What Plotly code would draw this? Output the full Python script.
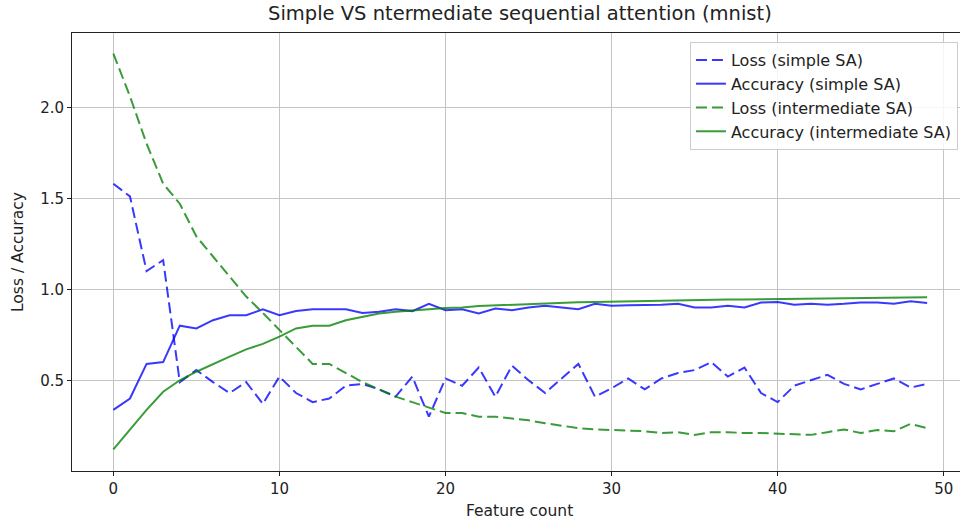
import plotly.graph_objects as go

# Feature counts on the x axis
feature_count = list(range(50))

# Simple sequential attention
loss_simple = [1.58, 1.51, 1.10, 1.16, 0.49, 0.556, 0.49, 0.43, 0.49, 0.37,
               0.52, 0.43, 0.38, 0.40, 0.47, 0.48, 0.45, 0.41, 0.52, 0.30,
               0.51, 0.47, 0.57, 0.41, 0.58, 0.50, 0.43, 0.51, 0.59, 0.41,
               0.456, 0.51, 0.45, 0.51, 0.54, 0.556, 0.60, 0.52, 0.57, 0.43,
               0.38, 0.47, 0.50, 0.53, 0.48, 0.45, 0.48, 0.51, 0.46, 0.48]
acc_simple = [0.337, 0.40, 0.59, 0.60, 0.80, 0.785, 0.83, 0.857, 0.857, 0.89,
              0.857, 0.88, 0.89, 0.89, 0.89, 0.87, 0.876, 0.89, 0.88, 0.92,
              0.885, 0.89, 0.867, 0.894, 0.885, 0.90, 0.91, 0.90, 0.89, 0.92,
              0.91, 0.912, 0.912, 0.915, 0.92, 0.90, 0.90, 0.91, 0.90, 0.927,
              0.93, 0.915, 0.92, 0.915, 0.92, 0.927, 0.927, 0.92, 0.934, 0.925]

# Intermediate sequential attention
loss_inter = [2.295, 2.06, 1.80, 1.58, 1.47, 1.29, 1.18, 1.07, 0.96, 0.87,
              0.775, 0.68, 0.59, 0.59, 0.54, 0.49, 0.45, 0.41, 0.38, 0.35,
              0.32, 0.32, 0.30, 0.30, 0.29, 0.28, 0.264, 0.25, 0.237, 0.23,
              0.227, 0.227, 0.22, 0.21, 0.215, 0.20, 0.215, 0.215, 0.21, 0.21,
              0.207, 0.207, 0.20, 0.215, 0.23, 0.21, 0.227, 0.22, 0.26, 0.237]
acc_inter = [0.12, 0.23, 0.337, 0.437, 0.50, 0.547, 0.59, 0.63, 0.67, 0.70,
             0.74, 0.785, 0.80, 0.80, 0.83, 0.85, 0.867, 0.876, 0.885, 0.89,
             0.897, 0.90, 0.908, 0.912, 0.915, 0.918, 0.92, 0.925, 0.929, 0.93,
             0.932, 0.934, 0.936, 0.938, 0.940, 0.942, 0.942, 0.944, 0.944, 0.945,
             0.947, 0.947, 0.949, 0.949, 0.947, 0.949, 0.951, 0.954, 0.952, 0.956]

BLUE = "rgba(0,0,255,0.78)"
GREEN = "rgba(0,128,0,0.78)"
FONT = "DejaVu Sans"
TEXT = "#222"

fig = go.Figure()
series = [
    ("Loss (simple SA)", loss_simple, BLUE, "11px,5px"),
    ("Accuracy (simple SA)", acc_simple, BLUE, "solid"),
    ("Loss (intermediate SA)", loss_inter, GREEN, "11px,5px"),
    ("Accuracy (intermediate SA)", acc_inter, GREEN, "solid"),
]
for name, vals, color, dash in series:
    fig.add_trace(go.Scatter(
        x=feature_count, y=vals, mode="lines", name=name, legendgroup=name,
        line=dict(color=color, width=2, dash=dash),
    ))

axis_common = dict(
    showgrid=True, gridcolor="#c4c4c4", gridwidth=1,
    showline=True, linecolor=TEXT, linewidth=1,
    ticks="outside", ticklen=4, tickcolor=TEXT, tickwidth=1,
    tickfont=dict(family=FONT, size=15, color=TEXT),
    zeroline=False,
)

fig.update_layout(
    width=960, height=522,
    margin=dict(l=72, r=0, t=33, b=51),
    paper_bgcolor="white", plot_bgcolor="white",
    font=dict(family=FONT, size=15, color=TEXT),
    xaxis=dict(range=[-2.49, 50.98], tickvals=[0, 10, 20, 30, 40, 50],
               mirror=True, **axis_common),
    yaxis=dict(range=[0.0015, 2.408], tickvals=[0.5, 1.0, 1.5, 2.0],
               ticktext=["0.5", "1.0", "1.5", "2.0"], **axis_common),
    legend=dict(
        x=0.9977, y=0.9795, xanchor="right", yanchor="top",
        bgcolor="rgba(255,255,255,0.85)", bordercolor="#cccccc", borderwidth=1,
        font=dict(family=FONT, size=16, color=TEXT),
        tracegroupgap=0, itemwidth=30,
    ),
    showlegend=True,
    annotations=[
        dict(text="Simple VS ntermediate sequential attention (mnist)",
             xref="paper", yref="paper", x=0.5045, y=1.0434,
             xanchor="center", yanchor="middle", showarrow=False,
             font=dict(family=FONT, size=19.5, color=TEXT)),
        dict(text="Feature count", xref="paper", yref="paper",
             x=0.5045, y=-0.0913, xanchor="center", yanchor="middle",
             showarrow=False, font=dict(family=FONT, size=15.5, color=TEXT)),
        dict(text="Loss / Accuracy", xref="paper", yref="paper",
             x=-0.0608, y=0.5, xanchor="center", yanchor="middle",
             textangle=-90, showarrow=False,
             font=dict(family=FONT, size=15.5, color=TEXT)),
    ],
)

fig.write_html("out.html")
